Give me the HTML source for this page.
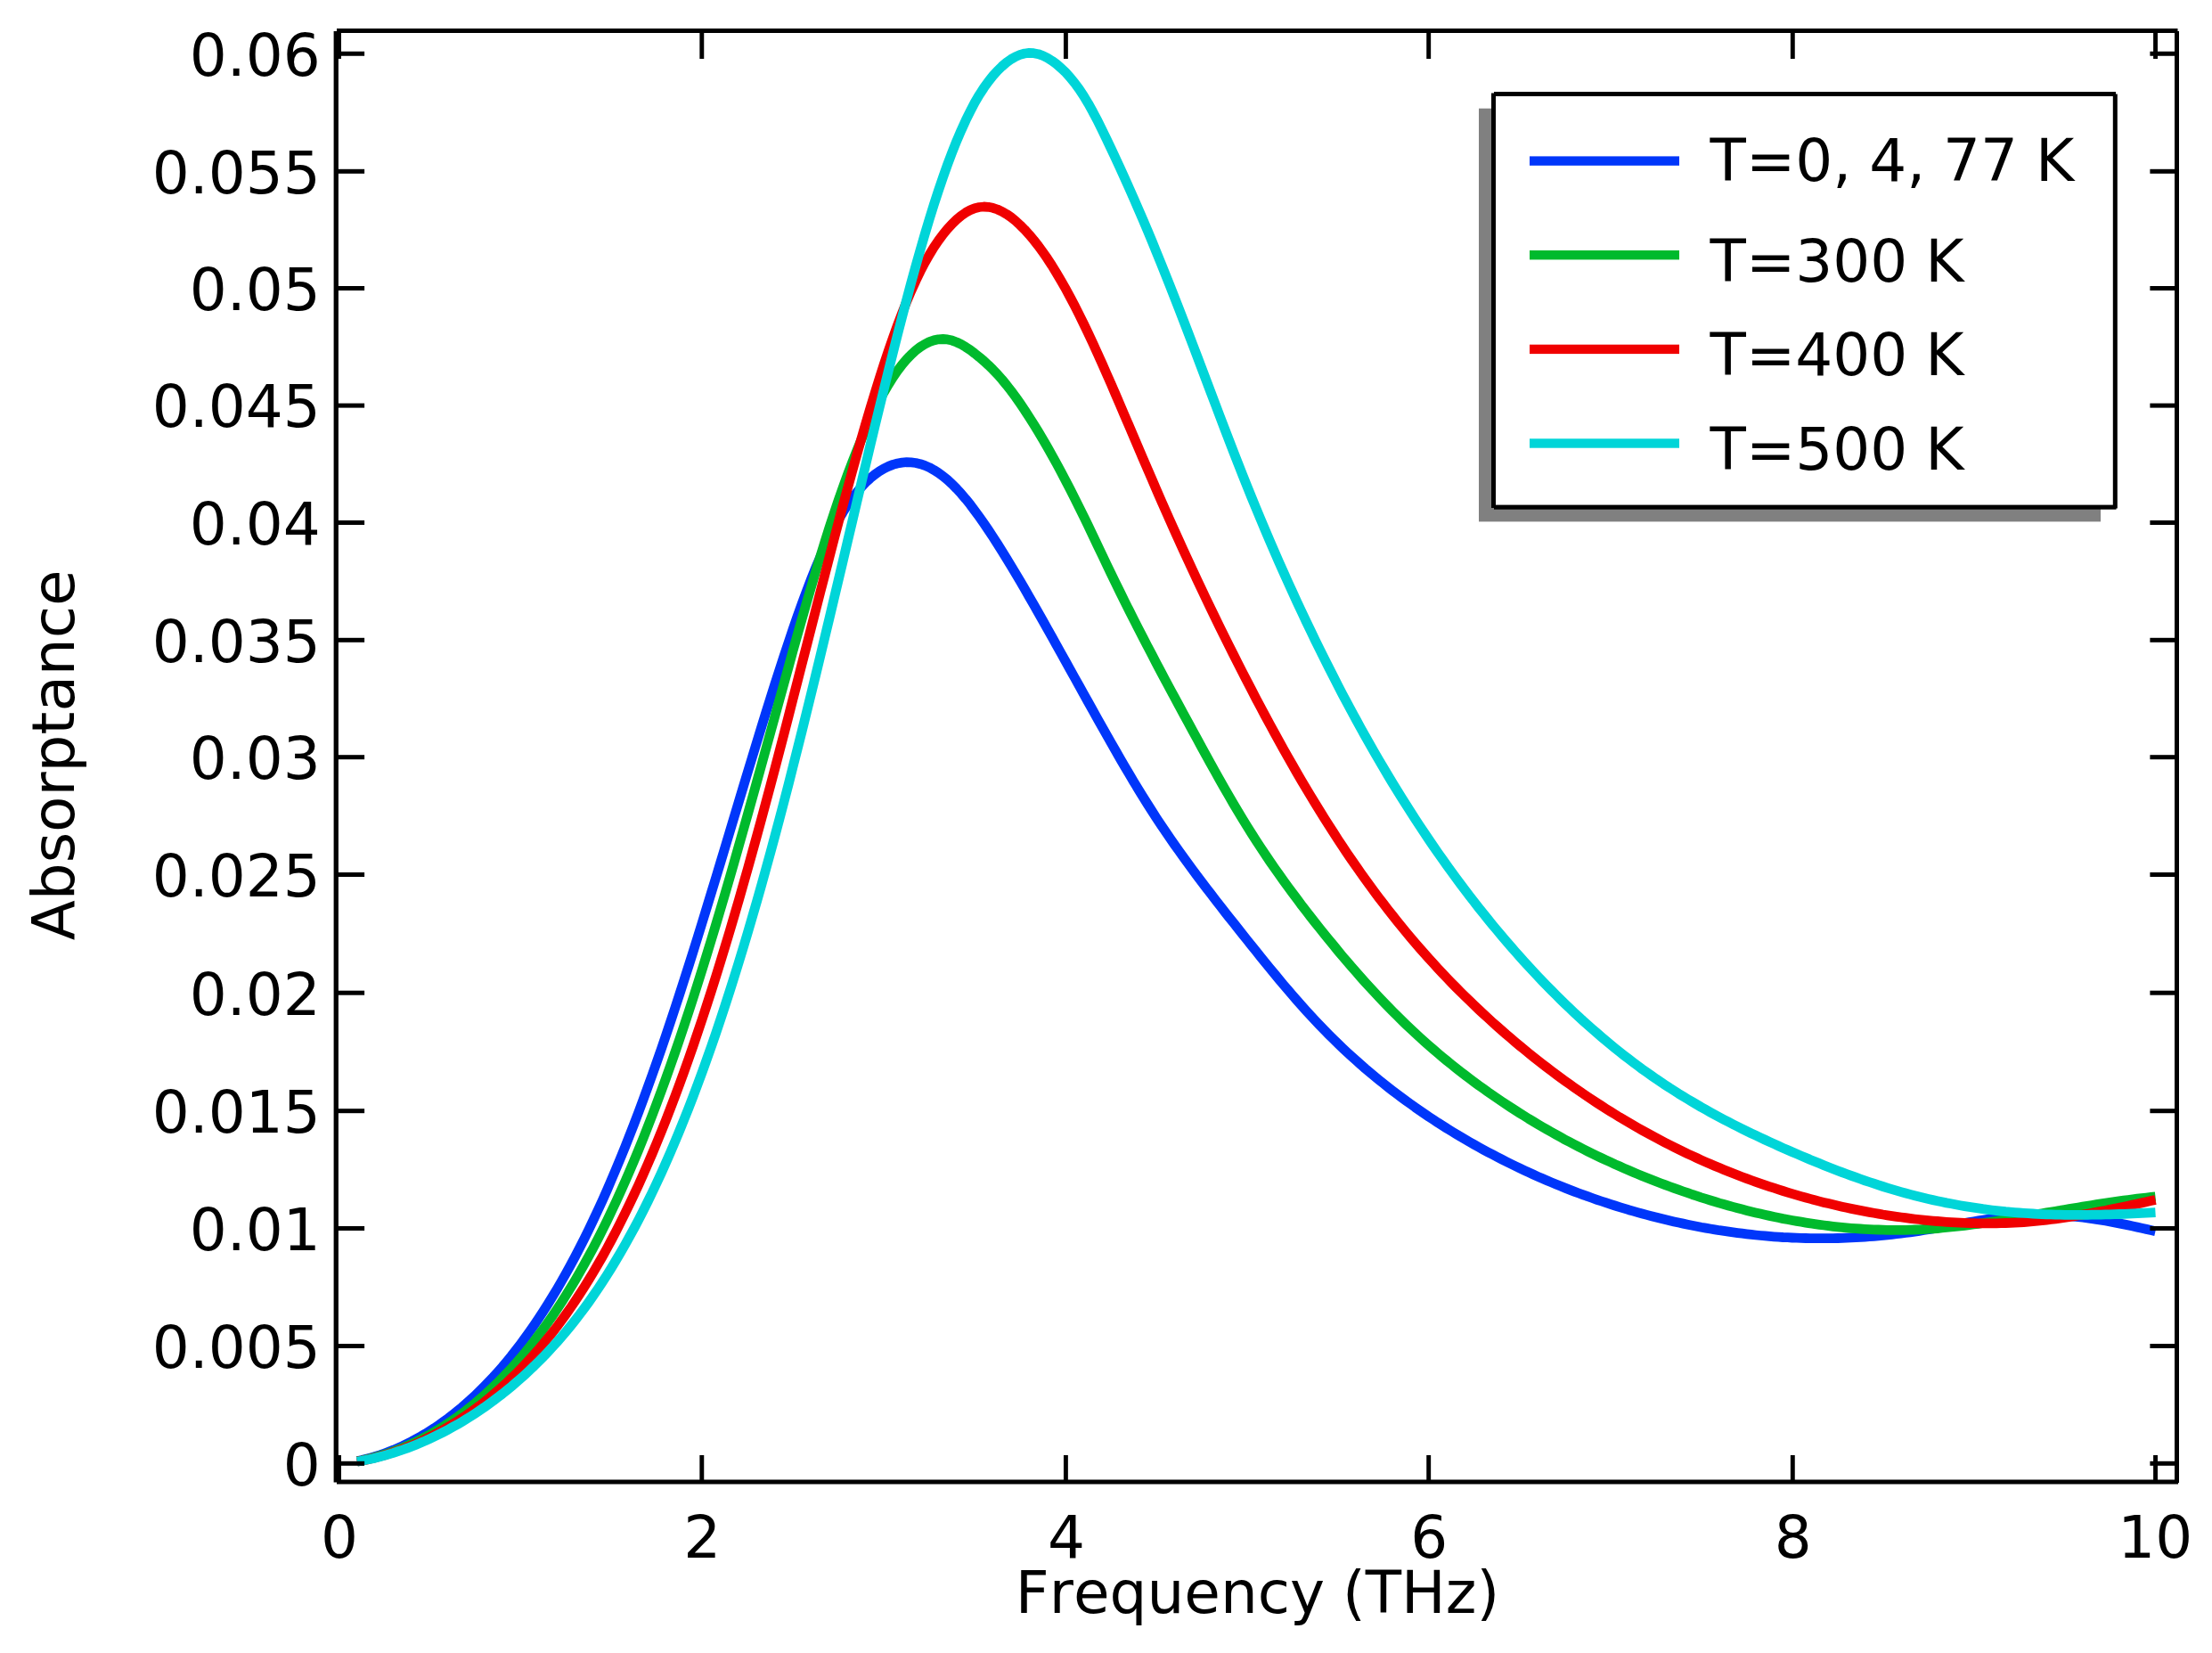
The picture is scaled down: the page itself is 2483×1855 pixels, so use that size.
<!DOCTYPE html>
<html lang="en"><head><meta charset="utf-8"><title>Absorptance vs Frequency</title>
<style>html,body{margin:0;padding:0;background:#fff;overflow:hidden}svg{display:block}text{font-kerning:none;word-spacing:-1px;font-family:"DejaVu Sans","Liberation Sans",sans-serif;font-size:66px;fill:#000}</style></head><body>
<svg width="2483" height="1855" viewBox="0 0 2483 1855">
<rect x="0.00" y="0.00" width="2483.00" height="1855.00" fill="#fff"/>
<g fill="none" stroke-width="10.8" stroke-linejoin="round" stroke-linecap="butt">
<path stroke="#0036fa" d="M400.9 1639.7 L406.0 1638.6 L411.1 1637.3 L416.2 1635.9 L421.3 1634.4 L426.4 1632.8 L431.5 1631.0 L436.6 1629.1 L441.7 1627.1 L446.8 1624.9 L451.9 1622.6 L457.0 1620.1 L462.1 1617.6 L467.2 1614.8 L472.3 1612.0 L477.4 1609.0 L482.4 1605.9 L487.5 1602.6 L492.6 1599.1 L497.7 1595.5 L502.8 1591.8 L507.9 1587.9 L513.0 1583.8 L518.1 1579.6 L523.2 1575.2 L528.3 1570.6 L533.4 1565.9 L538.5 1561.0 L543.6 1555.9 L548.7 1550.6 L553.8 1545.2 L558.9 1539.5 L564.0 1533.7 L569.1 1527.6 L574.2 1521.4 L579.3 1514.9 L584.4 1508.2 L589.5 1501.3 L594.6 1494.2 L599.7 1486.9 L604.8 1479.3 L609.9 1471.5 L615.0 1463.5 L620.1 1455.2 L625.2 1446.7 L630.3 1437.9 L635.4 1428.9 L640.5 1419.6 L645.6 1410.1 L650.7 1400.2 L655.8 1390.2 L660.9 1379.8 L666.0 1369.2 L671.1 1358.3 L676.2 1347.2 L681.3 1335.7 L686.3 1324.0 L691.4 1312.0 L696.5 1299.7 L701.6 1287.2 L706.7 1274.3 L711.8 1261.2 L716.9 1247.8 L722.0 1234.2 L727.1 1220.2 L732.2 1206.0 L737.3 1191.6 L742.4 1176.9 L747.5 1161.9 L752.6 1146.8 L757.7 1131.4 L762.8 1115.8 L767.9 1099.9 L773.0 1084.0 L778.1 1067.8 L783.2 1051.5 L788.3 1035.0 L793.4 1018.4 L798.5 1001.7 L803.6 985.0 L808.7 968.1 L813.8 951.2 L818.9 934.3 L824.0 917.3 L829.1 900.4 L834.2 883.4 L839.3 866.5 L844.4 849.7 L849.5 833.0 L854.6 816.4 L859.7 799.9 L864.8 783.6 L869.9 767.5 L875.0 751.6 L880.1 736.0 L885.2 720.7 L890.2 705.7 L895.3 691.0 L900.4 676.8 L905.5 663.1 L910.6 649.8 L915.7 637.1 L920.8 625.0 L925.9 613.6 L931.0 602.8 L936.1 592.7 L941.2 583.3 L946.3 574.7 L951.4 566.7 L956.5 559.4 L961.6 552.8 L966.7 546.8 L971.8 541.4 L976.9 536.7 L982.0 532.5 L987.1 528.9 L992.2 525.8 L997.3 523.4 L1002.4 521.4 L1007.5 520.0 L1012.6 519.1 L1017.7 518.7 L1022.8 518.9 L1027.9 519.5 L1033.0 520.7 L1038.1 522.4 L1043.2 524.6 L1048.3 527.4 L1053.4 530.6 L1058.5 534.3 L1063.6 538.5 L1068.7 543.2 L1073.8 548.4 L1078.9 553.9 L1084.0 559.9 L1089.1 566.2 L1094.1 572.9 L1099.2 579.9 L1104.3 587.1 L1109.4 594.6 L1114.5 602.4 L1119.6 610.3 L1124.7 618.4 L1129.8 626.6 L1134.9 635.0 L1140.0 643.5 L1145.1 652.1 L1150.2 660.8 L1155.3 669.7 L1160.4 678.5 L1165.5 687.5 L1170.6 696.5 L1175.7 705.6 L1180.8 714.7 L1185.9 723.8 L1191.0 733.0 L1196.1 742.2 L1201.2 751.3 L1206.3 760.5 L1211.4 769.7 L1216.5 778.9 L1221.6 788.0 L1226.7 797.2 L1231.8 806.3 L1236.9 815.4 L1242.0 824.4 L1247.1 833.4 L1252.2 842.3 L1257.3 851.2 L1262.4 860.0 L1267.5 868.6 L1272.6 877.2 L1277.7 885.6 L1282.8 893.9 L1287.9 902.0 L1293.0 910.0 L1298.0 917.8 L1303.1 925.5 L1308.2 933.1 L1313.3 940.5 L1318.4 947.8 L1323.5 955.0 L1328.6 962.1 L1333.7 969.1 L1338.8 976.1 L1343.9 982.9 L1349.0 989.7 L1354.1 996.4 L1359.2 1003.1 L1364.3 1009.7 L1369.4 1016.3 L1374.5 1022.8 L1379.6 1029.3 L1384.7 1035.7 L1389.8 1042.2 L1394.9 1048.6 L1400.0 1055.0 L1405.1 1061.4 L1410.2 1067.7 L1415.3 1074.1 L1420.4 1080.4 L1425.5 1086.6 L1430.6 1092.8 L1435.7 1099.0 L1440.8 1105.1 L1445.9 1111.1 L1451.0 1117.0 L1456.1 1122.9 L1461.2 1128.6 L1466.3 1134.3 L1471.4 1139.9 L1476.5 1145.4 L1481.6 1150.8 L1486.7 1156.0 L1491.8 1161.2 L1496.9 1166.3 L1501.9 1171.2 L1507.0 1176.1 L1512.1 1180.9 L1517.2 1185.5 L1522.3 1190.1 L1527.4 1194.6 L1532.5 1199.1 L1537.6 1203.4 L1542.7 1207.6 L1547.8 1211.8 L1552.9 1215.9 L1558.0 1219.9 L1563.1 1223.9 L1568.2 1227.8 L1573.3 1231.6 L1578.4 1235.3 L1583.5 1239.0 L1588.6 1242.7 L1593.7 1246.2 L1598.8 1249.7 L1603.9 1253.2 L1609.0 1256.5 L1614.1 1259.9 L1619.2 1263.1 L1624.3 1266.4 L1629.4 1269.5 L1634.5 1272.6 L1639.6 1275.7 L1644.7 1278.7 L1649.8 1281.6 L1654.9 1284.5 L1660.0 1287.4 L1665.1 1290.2 L1670.2 1292.9 L1675.3 1295.6 L1680.4 1298.3 L1685.5 1300.9 L1690.6 1303.5 L1695.7 1306.0 L1700.8 1308.5 L1705.8 1310.9 L1710.9 1313.3 L1716.0 1315.7 L1721.1 1318.0 L1726.2 1320.3 L1731.3 1322.5 L1736.4 1324.7 L1741.5 1326.9 L1746.6 1329.0 L1751.7 1331.1 L1756.8 1333.1 L1761.9 1335.1 L1767.0 1337.1 L1772.1 1339.0 L1777.2 1340.9 L1782.3 1342.7 L1787.4 1344.5 L1792.5 1346.3 L1797.6 1348.0 L1802.7 1349.7 L1807.8 1351.4 L1812.9 1353.0 L1818.0 1354.6 L1823.1 1356.1 L1828.2 1357.7 L1833.3 1359.1 L1838.4 1360.6 L1843.5 1362.0 L1848.6 1363.4 L1853.7 1364.7 L1858.8 1366.0 L1863.9 1367.3 L1869.0 1368.5 L1874.1 1369.7 L1879.2 1370.9 L1884.3 1372.0 L1889.4 1373.1 L1894.5 1374.2 L1899.6 1375.2 L1904.7 1376.2 L1909.7 1377.2 L1914.8 1378.1 L1919.9 1379.0 L1925.0 1379.8 L1930.1 1380.7 L1935.2 1381.4 L1940.3 1382.2 L1945.4 1382.9 L1950.5 1383.6 L1955.6 1384.2 L1960.7 1384.8 L1965.8 1385.4 L1970.9 1386.0 L1976.0 1386.5 L1981.1 1386.9 L1986.2 1387.4 L1991.3 1387.8 L1996.4 1388.1 L2001.5 1388.5 L2006.6 1388.7 L2011.7 1389.0 L2016.8 1389.2 L2021.9 1389.4 L2027.0 1389.5 L2032.1 1389.6 L2037.2 1389.7 L2042.3 1389.7 L2047.4 1389.7 L2052.5 1389.7 L2057.6 1389.6 L2062.7 1389.5 L2067.8 1389.3 L2072.9 1389.1 L2078.0 1388.9 L2083.1 1388.6 L2088.2 1388.4 L2093.3 1388.0 L2098.4 1387.7 L2103.5 1387.3 L2108.6 1386.8 L2113.6 1386.4 L2118.7 1385.8 L2123.8 1385.3 L2128.9 1384.7 L2134.0 1384.1 L2139.1 1383.5 L2144.2 1382.8 L2149.3 1382.1 L2154.4 1381.3 L2159.5 1380.5 L2164.6 1379.7 L2169.7 1378.9 L2174.8 1378.0 L2179.9 1377.1 L2185.0 1376.2 L2190.1 1375.3 L2195.2 1374.4 L2200.3 1373.5 L2205.4 1372.5 L2210.5 1371.6 L2215.6 1370.8 L2220.7 1369.9 L2225.8 1369.1 L2230.9 1368.3 L2236.0 1367.5 L2241.1 1366.8 L2246.2 1366.1 L2251.3 1365.5 L2256.4 1365.0 L2261.5 1364.5 L2266.6 1364.0 L2271.7 1363.7 L2276.8 1363.4 L2281.9 1363.2 L2287.0 1363.1 L2292.1 1363.1 L2297.2 1363.2 L2302.3 1363.3 L2307.4 1363.5 L2312.5 1363.8 L2317.5 1364.2 L2322.6 1364.6 L2327.7 1365.1 L2332.8 1365.6 L2337.9 1366.2 L2343.0 1366.9 L2348.1 1367.6 L2353.2 1368.4 L2358.3 1369.2 L2363.4 1370.0 L2368.5 1370.9 L2373.6 1371.9 L2378.7 1372.9 L2383.8 1373.9 L2388.9 1374.9 L2394.0 1376.0 L2399.1 1377.1 L2404.2 1378.3 L2409.3 1379.4 L2414.4 1380.6 L2419.5 1381.8"/>
<path stroke="#00ba2d" d="M400.9 1639.9 L406.0 1639.0 L411.1 1637.8 L416.2 1636.6 L421.3 1635.3 L426.4 1633.8 L431.5 1632.2 L436.6 1630.5 L441.7 1628.7 L446.8 1626.7 L451.9 1624.7 L457.0 1622.5 L462.1 1620.2 L467.2 1617.8 L472.3 1615.3 L477.4 1612.6 L482.4 1609.9 L487.5 1606.9 L492.6 1603.9 L497.7 1600.7 L502.8 1597.4 L507.9 1594.0 L513.0 1590.4 L518.1 1586.7 L523.2 1582.8 L528.3 1578.7 L533.4 1574.6 L538.5 1570.2 L543.6 1565.7 L548.7 1561.1 L553.8 1556.3 L558.9 1551.3 L564.0 1546.1 L569.1 1540.8 L574.2 1535.3 L579.3 1529.6 L584.4 1523.7 L589.5 1517.6 L594.6 1511.3 L599.7 1504.8 L604.8 1498.1 L609.9 1491.2 L615.0 1484.1 L620.1 1476.8 L625.2 1469.2 L630.3 1461.5 L635.4 1453.4 L640.5 1445.2 L645.6 1436.7 L650.7 1427.9 L655.8 1418.9 L660.9 1409.7 L666.0 1400.2 L671.1 1390.4 L676.2 1380.4 L681.3 1370.1 L686.3 1359.5 L691.4 1348.7 L696.5 1337.5 L701.6 1326.1 L706.7 1314.4 L711.8 1302.4 L716.9 1290.1 L722.0 1277.5 L727.1 1264.6 L732.2 1251.4 L737.3 1237.9 L742.4 1224.2 L747.5 1210.1 L752.6 1195.7 L757.7 1181.1 L762.8 1166.2 L767.9 1151.0 L773.0 1135.6 L778.1 1119.9 L783.2 1103.9 L788.3 1087.7 L793.4 1071.2 L798.5 1054.5 L803.6 1037.6 L808.7 1020.5 L813.8 1003.2 L818.9 985.7 L824.0 968.0 L829.1 950.1 L834.2 932.1 L839.3 914.0 L844.4 895.8 L849.5 877.5 L854.6 859.1 L859.7 840.6 L864.8 822.1 L869.9 803.6 L875.0 785.1 L880.1 766.6 L885.2 748.2 L890.2 729.9 L895.3 711.8 L900.4 693.8 L905.5 676.0 L910.6 658.5 L915.7 641.3 L920.8 624.5 L925.9 608.0 L931.0 591.9 L936.1 576.4 L941.2 561.3 L946.3 546.7 L951.4 532.7 L956.5 519.2 L961.6 506.2 L966.7 493.8 L971.8 481.9 L976.9 470.6 L982.0 459.9 L987.1 449.8 L992.2 440.3 L997.3 431.5 L1002.4 423.4 L1007.5 416.0 L1012.6 409.2 L1017.7 403.2 L1022.8 397.9 L1027.9 393.3 L1033.0 389.4 L1038.1 386.2 L1043.2 383.6 L1048.3 381.9 L1053.4 380.8 L1058.5 380.5 L1063.6 380.9 L1068.7 382.1 L1073.8 384.0 L1078.9 386.4 L1084.0 389.4 L1089.1 392.8 L1094.1 396.6 L1099.2 400.7 L1104.3 405.0 L1109.4 409.7 L1114.5 414.7 L1119.6 420.0 L1124.7 425.8 L1129.8 432.0 L1134.9 438.5 L1140.0 445.4 L1145.1 452.7 L1150.2 460.2 L1155.3 468.1 L1160.4 476.1 L1165.5 484.4 L1170.6 493.0 L1175.7 501.8 L1180.8 510.8 L1185.9 520.0 L1191.0 529.5 L1196.1 539.2 L1201.2 549.0 L1206.3 559.1 L1211.4 569.3 L1216.5 579.7 L1221.6 590.2 L1226.7 600.9 L1231.8 611.6 L1236.9 622.3 L1242.0 633.0 L1247.1 643.6 L1252.2 654.1 L1257.3 664.5 L1262.4 674.8 L1267.5 685.0 L1272.6 695.1 L1277.7 705.1 L1282.8 715.0 L1287.9 724.9 L1293.0 734.6 L1298.0 744.3 L1303.1 753.9 L1308.2 763.5 L1313.3 773.0 L1318.4 782.4 L1323.5 791.9 L1328.6 801.3 L1333.7 810.7 L1338.8 820.1 L1343.9 829.4 L1349.0 838.8 L1354.1 848.1 L1359.2 857.3 L1364.3 866.5 L1369.4 875.6 L1374.5 884.6 L1379.6 893.4 L1384.7 902.2 L1389.8 910.8 L1394.9 919.2 L1400.0 927.5 L1405.1 935.7 L1410.2 943.6 L1415.3 951.4 L1420.4 959.1 L1425.5 966.6 L1430.6 974.0 L1435.7 981.2 L1440.8 988.4 L1445.9 995.4 L1451.0 1002.3 L1456.1 1009.1 L1461.2 1015.9 L1466.3 1022.5 L1471.4 1029.1 L1476.5 1035.6 L1481.6 1042.0 L1486.7 1048.3 L1491.8 1054.6 L1496.9 1060.8 L1501.9 1067.0 L1507.0 1073.1 L1512.1 1079.1 L1517.2 1085.0 L1522.3 1090.8 L1527.4 1096.6 L1532.5 1102.3 L1537.6 1107.9 L1542.7 1113.4 L1547.8 1118.9 L1552.9 1124.2 L1558.0 1129.5 L1563.1 1134.7 L1568.2 1139.8 L1573.3 1144.8 L1578.4 1149.8 L1583.5 1154.6 L1588.6 1159.4 L1593.7 1164.1 L1598.8 1168.7 L1603.9 1173.2 L1609.0 1177.6 L1614.1 1182.0 L1619.2 1186.3 L1624.3 1190.5 L1629.4 1194.6 L1634.5 1198.7 L1639.6 1202.7 L1644.7 1206.6 L1649.8 1210.5 L1654.9 1214.3 L1660.0 1218.1 L1665.1 1221.7 L1670.2 1225.4 L1675.3 1228.9 L1680.4 1232.4 L1685.5 1235.9 L1690.6 1239.3 L1695.7 1242.6 L1700.8 1245.9 L1705.8 1249.1 L1710.9 1252.3 L1716.0 1255.5 L1721.1 1258.5 L1726.2 1261.6 L1731.3 1264.6 L1736.4 1267.5 L1741.5 1270.4 L1746.6 1273.3 L1751.7 1276.1 L1756.8 1278.9 L1761.9 1281.6 L1767.0 1284.3 L1772.1 1286.9 L1777.2 1289.5 L1782.3 1292.1 L1787.4 1294.6 L1792.5 1297.1 L1797.6 1299.5 L1802.7 1301.9 L1807.8 1304.2 L1812.9 1306.6 L1818.0 1308.8 L1823.1 1311.1 L1828.2 1313.3 L1833.3 1315.4 L1838.4 1317.6 L1843.5 1319.7 L1848.6 1321.7 L1853.7 1323.8 L1858.8 1325.8 L1863.9 1327.7 L1869.0 1329.6 L1874.1 1331.5 L1879.2 1333.4 L1884.3 1335.2 L1889.4 1337.0 L1894.5 1338.7 L1899.6 1340.5 L1904.7 1342.1 L1909.7 1343.8 L1914.8 1345.4 L1919.9 1347.0 L1925.0 1348.5 L1930.1 1350.1 L1935.2 1351.5 L1940.3 1353.0 L1945.4 1354.4 L1950.5 1355.8 L1955.6 1357.1 L1960.7 1358.4 L1965.8 1359.7 L1970.9 1360.9 L1976.0 1362.1 L1981.1 1363.3 L1986.2 1364.4 L1991.3 1365.5 L1996.4 1366.5 L2001.5 1367.6 L2006.6 1368.5 L2011.7 1369.5 L2016.8 1370.4 L2021.9 1371.2 L2027.0 1372.1 L2032.1 1372.9 L2037.2 1373.6 L2042.3 1374.3 L2047.4 1375.0 L2052.5 1375.7 L2057.6 1376.3 L2062.7 1376.8 L2067.8 1377.3 L2072.9 1377.8 L2078.0 1378.3 L2083.1 1378.7 L2088.2 1379.0 L2093.3 1379.3 L2098.4 1379.6 L2103.5 1379.9 L2108.6 1380.0 L2113.6 1380.2 L2118.7 1380.3 L2123.8 1380.4 L2128.9 1380.4 L2134.0 1380.4 L2139.1 1380.3 L2144.2 1380.2 L2149.3 1380.0 L2154.4 1379.8 L2159.5 1379.5 L2164.6 1379.2 L2169.7 1378.9 L2174.8 1378.5 L2179.9 1378.0 L2185.0 1377.5 L2190.1 1377.0 L2195.2 1376.5 L2200.3 1375.9 L2205.4 1375.3 L2210.5 1374.6 L2215.6 1374.0 L2220.7 1373.3 L2225.8 1372.5 L2230.9 1371.8 L2236.0 1371.0 L2241.1 1370.3 L2246.2 1369.5 L2251.3 1368.6 L2256.4 1367.8 L2261.5 1367.0 L2266.6 1366.1 L2271.7 1365.3 L2276.8 1364.4 L2281.9 1363.5 L2287.0 1362.7 L2292.1 1361.8 L2297.2 1360.9 L2302.3 1360.1 L2307.4 1359.2 L2312.5 1358.4 L2317.5 1357.5 L2322.6 1356.7 L2327.7 1355.8 L2332.8 1355.0 L2337.9 1354.1 L2343.0 1353.3 L2348.1 1352.5 L2353.2 1351.7 L2358.3 1350.9 L2363.4 1350.2 L2368.5 1349.4 L2373.6 1348.7 L2378.7 1347.9 L2383.8 1347.2 L2388.9 1346.5 L2394.0 1345.9 L2399.1 1345.2 L2404.2 1344.6 L2409.3 1344.0 L2414.4 1343.4 L2419.5 1342.8"/>
<path stroke="#f00000" d="M400.9 1640.1 L406.0 1639.2 L411.1 1638.2 L416.2 1637.0 L421.3 1635.8 L426.4 1634.4 L431.5 1633.0 L436.6 1631.4 L441.7 1629.7 L446.8 1628.0 L451.9 1626.1 L457.0 1624.1 L462.1 1622.1 L467.2 1619.9 L472.3 1617.6 L477.4 1615.2 L482.4 1612.7 L487.5 1610.1 L492.6 1607.3 L497.7 1604.5 L502.8 1601.5 L507.9 1598.4 L513.0 1595.2 L518.1 1591.9 L523.2 1588.5 L528.3 1584.9 L533.4 1581.2 L538.5 1577.4 L543.6 1573.4 L548.7 1569.3 L553.8 1565.0 L558.9 1560.6 L564.0 1556.1 L569.1 1551.4 L574.2 1546.5 L579.3 1541.5 L584.4 1536.4 L589.5 1531.0 L594.6 1525.5 L599.7 1519.9 L604.8 1514.0 L609.9 1508.0 L615.0 1501.7 L620.1 1495.3 L625.2 1488.7 L630.3 1481.8 L635.4 1474.8 L640.5 1467.5 L645.6 1460.0 L650.7 1452.3 L655.8 1444.4 L660.9 1436.2 L666.0 1427.8 L671.1 1419.1 L676.2 1410.2 L681.3 1401.0 L686.3 1391.6 L691.4 1381.9 L696.5 1371.9 L701.6 1361.7 L706.7 1351.2 L711.8 1340.4 L716.9 1329.4 L722.0 1318.0 L727.1 1306.4 L732.2 1294.5 L737.3 1282.2 L742.4 1269.7 L747.5 1256.9 L752.6 1243.8 L757.7 1230.3 L762.8 1216.6 L767.9 1202.6 L773.0 1188.2 L778.1 1173.6 L783.2 1158.6 L788.3 1143.4 L793.4 1127.8 L798.5 1112.0 L803.6 1095.8 L808.7 1079.4 L813.8 1062.7 L818.9 1045.7 L824.0 1028.4 L829.1 1010.9 L834.2 993.1 L839.3 975.1 L844.4 956.8 L849.5 938.3 L854.6 919.6 L859.7 900.7 L864.8 881.6 L869.9 862.4 L875.0 842.9 L880.1 823.4 L885.2 803.7 L890.2 783.9 L895.3 764.1 L900.4 744.2 L905.5 724.3 L910.6 704.3 L915.7 684.4 L920.8 664.5 L925.9 644.8 L931.0 625.1 L936.1 605.5 L941.2 586.2 L946.3 567.0 L951.4 548.1 L956.5 529.4 L961.6 511.0 L966.7 493.0 L971.8 475.3 L976.9 458.0 L982.0 441.2 L987.1 424.9 L992.2 409.0 L997.3 393.7 L1002.4 379.0 L1007.5 364.9 L1012.6 351.4 L1017.7 338.6 L1022.8 326.5 L1027.9 315.2 L1033.0 304.6 L1038.1 294.8 L1043.2 285.8 L1048.3 277.5 L1053.4 270.0 L1058.5 263.1 L1063.6 256.9 L1068.7 251.3 L1073.8 246.4 L1078.9 242.1 L1084.0 238.6 L1089.1 235.8 L1094.1 233.7 L1099.2 232.5 L1104.3 232.0 L1109.4 232.3 L1114.5 233.3 L1119.6 235.0 L1124.7 237.3 L1129.8 240.3 L1134.9 243.8 L1140.0 247.9 L1145.1 252.6 L1150.2 257.7 L1155.3 263.3 L1160.4 269.4 L1165.5 275.9 L1170.6 282.9 L1175.7 290.2 L1180.8 298.0 L1185.9 306.3 L1191.0 314.9 L1196.1 323.9 L1201.2 333.3 L1206.3 343.0 L1211.4 353.1 L1216.5 363.5 L1221.6 374.1 L1226.7 385.1 L1231.8 396.2 L1236.9 407.5 L1242.0 419.1 L1247.1 430.7 L1252.2 442.5 L1257.3 454.3 L1262.4 466.3 L1267.5 478.2 L1272.6 490.2 L1277.7 502.1 L1282.8 514.1 L1287.9 525.9 L1293.0 537.7 L1298.0 549.4 L1303.1 561.1 L1308.2 572.6 L1313.3 584.1 L1318.4 595.5 L1323.5 606.8 L1328.6 618.0 L1333.7 629.1 L1338.8 640.1 L1343.9 651.0 L1349.0 661.8 L1354.1 672.5 L1359.2 683.1 L1364.3 693.6 L1369.4 704.1 L1374.5 714.4 L1379.6 724.7 L1384.7 734.8 L1389.8 744.9 L1394.9 754.9 L1400.0 764.8 L1405.1 774.6 L1410.2 784.4 L1415.3 794.0 L1420.4 803.6 L1425.5 813.0 L1430.6 822.4 L1435.7 831.7 L1440.8 840.8 L1445.9 849.9 L1451.0 858.8 L1456.1 867.7 L1461.2 876.4 L1466.3 885.0 L1471.4 893.5 L1476.5 901.9 L1481.6 910.2 L1486.7 918.3 L1491.8 926.4 L1496.9 934.3 L1501.9 942.1 L1507.0 949.8 L1512.1 957.4 L1517.2 964.9 L1522.3 972.2 L1527.4 979.5 L1532.5 986.6 L1537.6 993.6 L1542.7 1000.6 L1547.8 1007.4 L1552.9 1014.1 L1558.0 1020.7 L1563.1 1027.2 L1568.2 1033.6 L1573.3 1039.9 L1578.4 1046.1 L1583.5 1052.2 L1588.6 1058.2 L1593.7 1064.1 L1598.8 1069.9 L1603.9 1075.6 L1609.0 1081.2 L1614.1 1086.8 L1619.2 1092.2 L1624.3 1097.6 L1629.4 1102.9 L1634.5 1108.1 L1639.6 1113.2 L1644.7 1118.3 L1649.8 1123.2 L1654.9 1128.1 L1660.0 1133.0 L1665.1 1137.7 L1670.2 1142.4 L1675.3 1147.1 L1680.4 1151.6 L1685.5 1156.1 L1690.6 1160.6 L1695.7 1164.9 L1700.8 1169.3 L1705.8 1173.5 L1710.9 1177.7 L1716.0 1181.9 L1721.1 1186.0 L1726.2 1190.0 L1731.3 1194.0 L1736.4 1197.9 L1741.5 1201.8 L1746.6 1205.6 L1751.7 1209.4 L1756.8 1213.1 L1761.9 1216.7 L1767.0 1220.3 L1772.1 1223.9 L1777.2 1227.4 L1782.3 1230.9 L1787.4 1234.3 L1792.5 1237.6 L1797.6 1240.9 L1802.7 1244.2 L1807.8 1247.4 L1812.9 1250.5 L1818.0 1253.7 L1823.1 1256.7 L1828.2 1259.7 L1833.3 1262.7 L1838.4 1265.6 L1843.5 1268.5 L1848.6 1271.3 L1853.7 1274.1 L1858.8 1276.8 L1863.9 1279.5 L1869.0 1282.2 L1874.1 1284.8 L1879.2 1287.3 L1884.3 1289.8 L1889.4 1292.3 L1894.5 1294.8 L1899.6 1297.1 L1904.7 1299.5 L1909.7 1301.8 L1914.8 1304.1 L1919.9 1306.3 L1925.0 1308.5 L1930.1 1310.6 L1935.2 1312.7 L1940.3 1314.8 L1945.4 1316.8 L1950.5 1318.8 L1955.6 1320.7 L1960.7 1322.6 L1965.8 1324.5 L1970.9 1326.3 L1976.0 1328.1 L1981.1 1329.9 L1986.2 1331.6 L1991.3 1333.2 L1996.4 1334.9 L2001.5 1336.5 L2006.6 1338.1 L2011.7 1339.6 L2016.8 1341.1 L2021.9 1342.6 L2027.0 1344.0 L2032.1 1345.4 L2037.2 1346.7 L2042.3 1348.1 L2047.4 1349.4 L2052.5 1350.6 L2057.6 1351.8 L2062.7 1353.0 L2067.8 1354.2 L2072.9 1355.3 L2078.0 1356.4 L2083.1 1357.4 L2088.2 1358.4 L2093.3 1359.4 L2098.4 1360.4 L2103.5 1361.3 L2108.6 1362.1 L2113.6 1363.0 L2118.7 1363.8 L2123.8 1364.6 L2128.9 1365.3 L2134.0 1366.0 L2139.1 1366.7 L2144.2 1367.4 L2149.3 1368.0 L2154.4 1368.5 L2159.5 1369.1 L2164.6 1369.6 L2169.7 1370.1 L2174.8 1370.5 L2179.9 1370.9 L2185.0 1371.3 L2190.1 1371.6 L2195.2 1371.9 L2200.3 1372.2 L2205.4 1372.4 L2210.5 1372.6 L2215.6 1372.7 L2220.7 1372.8 L2225.8 1372.9 L2230.9 1372.9 L2236.0 1372.9 L2241.1 1372.8 L2246.2 1372.7 L2251.3 1372.5 L2256.4 1372.3 L2261.5 1372.1 L2266.6 1371.8 L2271.7 1371.5 L2276.8 1371.1 L2281.9 1370.7 L2287.0 1370.2 L2292.1 1369.7 L2297.2 1369.1 L2302.3 1368.5 L2307.4 1367.8 L2312.5 1367.1 L2317.5 1366.4 L2322.6 1365.7 L2327.7 1364.9 L2332.8 1364.0 L2337.9 1363.2 L2343.0 1362.3 L2348.1 1361.4 L2353.2 1360.4 L2358.3 1359.4 L2363.4 1358.5 L2368.5 1357.4 L2373.6 1356.4 L2378.7 1355.4 L2383.8 1354.3 L2388.9 1353.2 L2394.0 1352.1 L2399.1 1351.0 L2404.2 1349.9 L2409.3 1348.8 L2414.4 1347.6 L2419.5 1346.5"/>
<path stroke="#00d5d8" d="M400.9 1640.2 L406.0 1639.3 L411.1 1638.3 L416.2 1637.2 L421.3 1636.1 L426.4 1634.8 L431.5 1633.4 L436.6 1631.9 L441.7 1630.4 L446.8 1628.7 L451.9 1627.0 L457.0 1625.2 L462.1 1623.2 L467.2 1621.2 L472.3 1619.1 L477.4 1616.9 L482.4 1614.6 L487.5 1612.2 L492.6 1609.7 L497.7 1607.1 L502.8 1604.4 L507.9 1601.6 L513.0 1598.8 L518.1 1595.8 L523.2 1592.7 L528.3 1589.5 L533.4 1586.2 L538.5 1582.8 L543.6 1579.3 L548.7 1575.6 L553.8 1571.9 L558.9 1568.0 L564.0 1564.1 L569.1 1560.0 L574.2 1555.8 L579.3 1551.4 L584.4 1547.0 L589.5 1542.4 L594.6 1537.6 L599.7 1532.8 L604.8 1527.7 L609.9 1522.6 L615.0 1517.2 L620.1 1511.7 L625.2 1506.1 L630.3 1500.2 L635.4 1494.2 L640.5 1488.0 L645.6 1481.6 L650.7 1475.0 L655.8 1468.2 L660.9 1461.2 L666.0 1453.9 L671.1 1446.5 L676.2 1438.8 L681.3 1430.9 L686.3 1422.8 L691.4 1414.4 L696.5 1405.8 L701.6 1396.9 L706.7 1387.7 L711.8 1378.3 L716.9 1368.7 L722.0 1358.7 L727.1 1348.5 L732.2 1338.0 L737.3 1327.3 L742.4 1316.2 L747.5 1304.8 L752.6 1293.1 L757.7 1281.2 L762.8 1268.9 L767.9 1256.3 L773.0 1243.4 L778.1 1230.2 L783.2 1216.7 L788.3 1202.8 L793.4 1188.7 L798.5 1174.2 L803.6 1159.4 L808.7 1144.2 L813.8 1128.8 L818.9 1113.0 L824.0 1096.9 L829.1 1080.5 L834.2 1063.7 L839.3 1046.7 L844.4 1029.3 L849.5 1011.7 L854.6 993.7 L859.7 975.4 L864.8 956.9 L869.9 938.0 L875.0 918.9 L880.1 899.5 L885.2 879.9 L890.2 860.0 L895.3 839.9 L900.4 819.6 L905.5 799.0 L910.6 778.3 L915.7 757.4 L920.8 736.3 L925.9 715.1 L931.0 693.7 L936.1 672.3 L941.2 650.8 L946.3 629.2 L951.4 607.5 L956.5 585.9 L961.6 564.3 L966.7 542.7 L971.8 521.2 L976.9 499.8 L982.0 478.6 L987.1 457.5 L992.2 436.7 L997.3 416.0 L1002.4 395.6 L1007.5 375.5 L1012.6 355.7 L1017.7 336.3 L1022.8 317.2 L1027.9 298.7 L1033.0 280.6 L1038.1 263.0 L1043.2 246.0 L1048.3 229.7 L1053.4 214.0 L1058.5 198.9 L1063.6 184.6 L1068.7 171.1 L1073.8 158.3 L1078.9 146.4 L1084.0 135.2 L1089.1 124.9 L1094.1 115.3 L1099.2 106.6 L1104.3 98.7 L1109.4 91.6 L1114.5 85.2 L1119.6 79.5 L1124.7 74.5 L1129.8 70.2 L1134.9 66.5 L1140.0 63.6 L1145.1 61.4 L1150.2 60.0 L1155.3 59.4 L1160.4 59.7 L1165.5 60.7 L1170.6 62.5 L1175.7 65.0 L1180.8 68.2 L1185.9 71.9 L1191.0 76.3 L1196.1 81.2 L1201.2 86.8 L1206.3 93.1 L1211.4 100.0 L1216.5 107.7 L1221.6 116.2 L1226.7 125.4 L1231.8 135.1 L1236.9 145.3 L1242.0 155.8 L1247.1 166.6 L1252.2 177.5 L1257.3 188.5 L1262.4 199.7 L1267.5 211.1 L1272.6 222.6 L1277.7 234.3 L1282.8 246.1 L1287.9 258.2 L1293.0 270.4 L1298.0 282.8 L1303.1 295.3 L1308.2 308.0 L1313.3 320.8 L1318.4 333.8 L1323.5 346.8 L1328.6 360.0 L1333.7 373.2 L1338.8 386.6 L1343.9 400.0 L1349.0 413.5 L1354.1 427.0 L1359.2 440.5 L1364.3 453.9 L1369.4 467.4 L1374.5 480.7 L1379.6 494.0 L1384.7 507.2 L1389.8 520.3 L1394.9 533.2 L1400.0 546.0 L1405.1 558.6 L1410.2 571.0 L1415.3 583.3 L1420.4 595.4 L1425.5 607.3 L1430.6 619.1 L1435.7 630.8 L1440.8 642.3 L1445.9 653.6 L1451.0 664.8 L1456.1 675.9 L1461.2 686.8 L1466.3 697.6 L1471.4 708.2 L1476.5 718.8 L1481.6 729.1 L1486.7 739.4 L1491.8 749.5 L1496.9 759.5 L1501.9 769.4 L1507.0 779.2 L1512.1 788.8 L1517.2 798.3 L1522.3 807.7 L1527.4 817.0 L1532.5 826.2 L1537.6 835.2 L1542.7 844.1 L1547.8 852.9 L1552.9 861.6 L1558.0 870.1 L1563.1 878.6 L1568.2 886.9 L1573.3 895.1 L1578.4 903.2 L1583.5 911.2 L1588.6 919.1 L1593.7 926.9 L1598.8 934.6 L1603.9 942.1 L1609.0 949.6 L1614.1 957.0 L1619.2 964.2 L1624.3 971.4 L1629.4 978.4 L1634.5 985.4 L1639.6 992.3 L1644.7 999.0 L1649.8 1005.7 L1654.9 1012.3 L1660.0 1018.8 L1665.1 1025.2 L1670.2 1031.5 L1675.3 1037.8 L1680.4 1043.9 L1685.5 1050.0 L1690.6 1056.0 L1695.7 1061.9 L1700.8 1067.7 L1705.8 1073.4 L1710.9 1079.1 L1716.0 1084.7 L1721.1 1090.2 L1726.2 1095.6 L1731.3 1101.0 L1736.4 1106.2 L1741.5 1111.4 L1746.6 1116.5 L1751.7 1121.6 L1756.8 1126.6 L1761.9 1131.4 L1767.0 1136.3 L1772.1 1141.0 L1777.2 1145.7 L1782.3 1150.3 L1787.4 1154.8 L1792.5 1159.2 L1797.6 1163.6 L1802.7 1167.9 L1807.8 1172.1 L1812.9 1176.3 L1818.0 1180.4 L1823.1 1184.4 L1828.2 1188.3 L1833.3 1192.2 L1838.4 1196.0 L1843.5 1199.8 L1848.6 1203.4 L1853.7 1207.0 L1858.8 1210.6 L1863.9 1214.0 L1869.0 1217.4 L1874.1 1220.8 L1879.2 1224.0 L1884.3 1227.3 L1889.4 1230.4 L1894.5 1233.5 L1899.6 1236.5 L1904.7 1239.5 L1909.7 1242.5 L1914.8 1245.3 L1919.9 1248.2 L1925.0 1251.0 L1930.1 1253.7 L1935.2 1256.4 L1940.3 1259.1 L1945.4 1261.7 L1950.5 1264.3 L1955.6 1266.8 L1960.7 1269.3 L1965.8 1271.8 L1970.9 1274.2 L1976.0 1276.6 L1981.1 1279.0 L1986.2 1281.4 L1991.3 1283.7 L1996.4 1286.0 L2001.5 1288.3 L2006.6 1290.5 L2011.7 1292.7 L2016.8 1294.9 L2021.9 1297.1 L2027.0 1299.3 L2032.1 1301.4 L2037.2 1303.5 L2042.3 1305.6 L2047.4 1307.7 L2052.5 1309.7 L2057.6 1311.7 L2062.7 1313.7 L2067.8 1315.6 L2072.9 1317.5 L2078.0 1319.4 L2083.1 1321.2 L2088.2 1323.0 L2093.3 1324.8 L2098.4 1326.5 L2103.5 1328.2 L2108.6 1329.9 L2113.6 1331.5 L2118.7 1333.1 L2123.8 1334.6 L2128.9 1336.1 L2134.0 1337.6 L2139.1 1339.0 L2144.2 1340.4 L2149.3 1341.7 L2154.4 1343.0 L2159.5 1344.3 L2164.6 1345.5 L2169.7 1346.6 L2174.8 1347.7 L2179.9 1348.8 L2185.0 1349.9 L2190.1 1350.8 L2195.2 1351.8 L2200.3 1352.7 L2205.4 1353.6 L2210.5 1354.4 L2215.6 1355.2 L2220.7 1355.9 L2225.8 1356.7 L2230.9 1357.3 L2236.0 1358.0 L2241.1 1358.6 L2246.2 1359.1 L2251.3 1359.7 L2256.4 1360.1 L2261.5 1360.6 L2266.6 1361.0 L2271.7 1361.4 L2276.8 1361.7 L2281.9 1362.0 L2287.0 1362.3 L2292.1 1362.6 L2297.2 1362.8 L2302.3 1362.9 L2307.4 1363.1 L2312.5 1363.2 L2317.5 1363.3 L2322.6 1363.3 L2327.7 1363.4 L2332.8 1363.4 L2337.9 1363.4 L2343.0 1363.3 L2348.1 1363.2 L2353.2 1363.2 L2358.3 1363.1 L2363.4 1362.9 L2368.5 1362.8 L2373.6 1362.6 L2378.7 1362.5 L2383.8 1362.3 L2388.9 1362.1 L2394.0 1361.9 L2399.1 1361.6 L2404.2 1361.4 L2409.3 1361.1 L2414.4 1360.9 L2419.5 1360.6"/>
</g>
<g>
<rect x="378.00" y="32.00" width="2066.50" height="5.00" fill="#000"/>
<rect x="378.00" y="1660.50" width="2067.00" height="5.00" fill="#000"/>
<rect x="374.60" y="35.00" width="5.30" height="1628.50" fill="#000"/>
<rect x="2441.00" y="35.00" width="5.00" height="1629.00" fill="#000"/>
<rect x="378.05" y="1633.00" width="4.90" height="30.00" fill="#000"/>
<rect x="378.05" y="34.00" width="4.90" height="32.00" fill="#000"/>
<rect x="785.35" y="1633.00" width="4.90" height="30.00" fill="#000"/>
<rect x="785.35" y="34.00" width="4.90" height="32.00" fill="#000"/>
<rect x="1193.95" y="1633.00" width="4.90" height="30.00" fill="#000"/>
<rect x="1193.95" y="34.00" width="4.90" height="32.00" fill="#000"/>
<rect x="1601.25" y="1633.00" width="4.90" height="30.00" fill="#000"/>
<rect x="1601.25" y="34.00" width="4.90" height="32.00" fill="#000"/>
<rect x="2009.85" y="1633.00" width="4.90" height="30.00" fill="#000"/>
<rect x="2009.85" y="34.00" width="4.90" height="32.00" fill="#000"/>
<rect x="2417.10" y="1633.00" width="4.90" height="30.00" fill="#000"/>
<rect x="2417.10" y="34.00" width="4.90" height="32.00" fill="#000"/>
<rect x="377.00" y="1639.80" width="32.10" height="5.00" fill="#000"/>
<rect x="2413.40" y="1639.80" width="29.60" height="5.00" fill="#000"/>
<rect x="377.00" y="1508.00" width="32.10" height="5.00" fill="#000"/>
<rect x="2413.40" y="1508.00" width="29.60" height="5.00" fill="#000"/>
<rect x="377.00" y="1376.00" width="32.10" height="5.00" fill="#000"/>
<rect x="2413.40" y="1376.00" width="29.60" height="5.00" fill="#000"/>
<rect x="377.00" y="1244.20" width="32.10" height="5.00" fill="#000"/>
<rect x="2413.40" y="1244.20" width="29.60" height="5.00" fill="#000"/>
<rect x="377.00" y="1111.70" width="32.10" height="5.00" fill="#000"/>
<rect x="2413.40" y="1111.70" width="29.60" height="5.00" fill="#000"/>
<rect x="377.00" y="979.00" width="32.10" height="5.00" fill="#000"/>
<rect x="2413.40" y="979.00" width="29.60" height="5.00" fill="#000"/>
<rect x="377.00" y="847.20" width="32.10" height="5.00" fill="#000"/>
<rect x="2413.40" y="847.20" width="29.60" height="5.00" fill="#000"/>
<rect x="377.00" y="715.80" width="32.10" height="5.00" fill="#000"/>
<rect x="2413.40" y="715.80" width="29.60" height="5.00" fill="#000"/>
<rect x="377.00" y="584.00" width="32.10" height="5.00" fill="#000"/>
<rect x="2413.40" y="584.00" width="29.60" height="5.00" fill="#000"/>
<rect x="377.00" y="452.60" width="32.10" height="5.00" fill="#000"/>
<rect x="2413.40" y="452.60" width="29.60" height="5.00" fill="#000"/>
<rect x="377.00" y="321.00" width="32.10" height="5.00" fill="#000"/>
<rect x="2413.40" y="321.00" width="29.60" height="5.00" fill="#000"/>
<rect x="377.00" y="189.80" width="32.10" height="5.00" fill="#000"/>
<rect x="2413.40" y="189.80" width="29.60" height="5.00" fill="#000"/>
<rect x="377.00" y="57.75" width="32.10" height="5.00" fill="#000"/>
<rect x="2413.40" y="57.75" width="29.60" height="5.00" fill="#000"/>
</g>
<g text-anchor="end">
<text x="359.8" y="1666.6">0</text>
<text x="359.8" y="1534.8">0.005</text>
<text x="359.8" y="1402.8">0.01</text>
<text x="359.8" y="1271.0">0.015</text>
<text x="359.8" y="1138.5">0.02</text>
<text x="359.8" y="1005.8">0.025</text>
<text x="359.8" y="874.0">0.03</text>
<text x="359.8" y="742.6">0.035</text>
<text x="359.8" y="610.8">0.04</text>
<text x="359.8" y="479.4">0.045</text>
<text x="359.8" y="347.8">0.05</text>
<text x="359.8" y="216.6">0.055</text>
<text x="359.8" y="84.5">0.06</text>
</g>
<g text-anchor="middle">
<text x="381.0" y="1748.0">0</text>
<text x="788.3" y="1748.0">2</text>
<text x="1196.9" y="1748.0">4</text>
<text x="1604.2" y="1748.0">6</text>
<text x="2012.8" y="1748.0">8</text>
<text x="2419.2" y="1748.0">10</text>
<text x="1411.5" y="1810">Frequency (THz)</text>
<text transform="translate(83.3 847.4) rotate(-90)">Absorptance</text>
</g>
<rect x="1660.00" y="121.70" width="698.00" height="463.70" fill="#808080"/>
<rect x="1676.00" y="105.00" width="699.00" height="465.00" fill="#fff"/>
<rect x="1677.00" y="103.00" width="698.00" height="5.00" fill="#000"/>
<rect x="1677.00" y="566.60" width="698.50" height="5.10" fill="#000"/>
<rect x="1674.00" y="104.50" width="5.00" height="465.50" fill="#000"/>
<rect x="2371.80" y="105.50" width="5.00" height="465.00" fill="#000"/>
<rect x="1717.00" y="175.40" width="168.00" height="10.40" fill="#0036fa"/>
<text x="1919.6" y="203.4">T=0, 4, 77 K</text>
<rect x="1717.00" y="281.00" width="168.00" height="10.40" fill="#00ba2d"/>
<text x="1919.6" y="315.6">T=300 K</text>
<rect x="1717.00" y="386.70" width="168.00" height="10.40" fill="#f00000"/>
<text x="1919.6" y="421.4">T=400 K</text>
<rect x="1717.00" y="492.30" width="168.00" height="10.40" fill="#00d5d8"/>
<text x="1919.6" y="527.2">T=500 K</text>
</svg></body></html>
